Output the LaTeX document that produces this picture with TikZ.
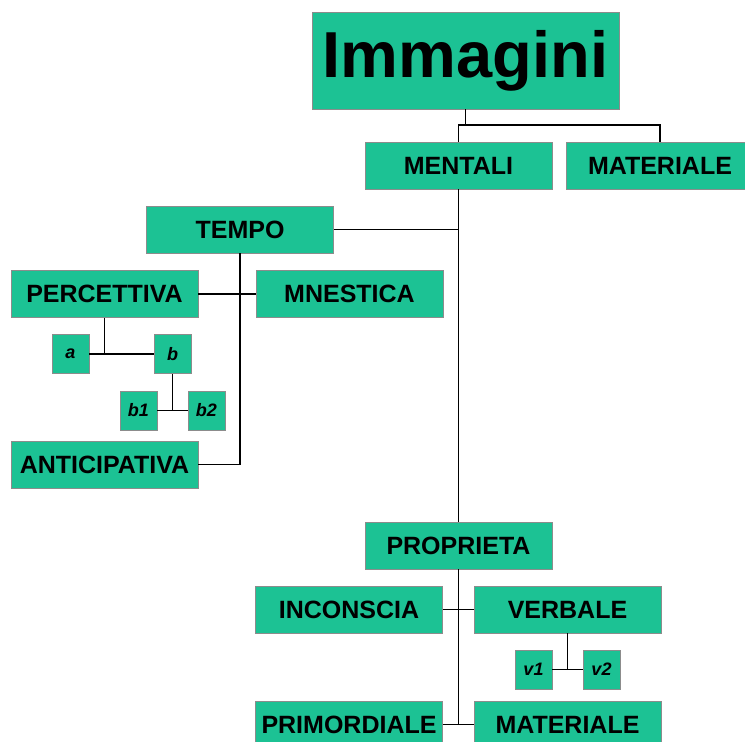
\documentclass[tikz,border=0pt]{standalone}
\usepackage{fontspec}
\setmainfont{Liberation Sans}
\usetikzlibrary{calc, positioning}
\definecolor{boxgreen}{RGB}{28,194,148}

\begin{document}
\begin{tikzpicture}[
    x=1pt, y=-1pt,
    box/.style={draw=black!45, line width=0.8pt, fill=boxgreen, inner sep=0pt,
                minimum width=187pt, minimum height=47pt,
                font=\bfseries\fontsize{25}{28}\selectfont},
    small/.style={box, minimum width=37pt, minimum height=39pt,
                  font=\bfseries\itshape\fontsize{18}{20}\selectfont},
    link/.style={draw=black, line width=1.8pt}
]
\useasboundingbox (0,0) rectangle (745,742);
\clip (0,0) rectangle (745,742);

% top
\node[box, minimum width=307pt, minimum height=97pt,
      font=\bfseries\fontsize{65}{70}\selectfont] (img) at (465.5, 60.5) {Immagini};
\node[box] (mentali) at (458.5, 165.5) {MENTALI};
\node[box] (mat) at (660, 165.5) {MATERIALE};
\coordinate (j1) at (458.5, 125);
\draw[link] (img.south) -- (img.south |- j1);
\draw[link] (mentali.north) -- (j1) -| (mat.north);

% tempo branch
\node[box] (tempo) at (240, 229.5) {TEMPO};
\node[box] (perc) at (104.5, 294) {PERCETTIVA};
\node[box] (mnest) at (349.5, 294) {MNESTICA};
\node[box] (antic) at (104.5, 464.5) {ANTICIPATIVA};
\draw[link] (tempo.east) -- (tempo.east -| mentali.south);
\draw[link] (tempo.south) |- (antic.east);
\draw[link] (perc.east) -- (mnest.west);

\node[small] (a) at (70.5, 354) {a};
\node[small] (b) at (172.5, 354) {b};
\node[small] (b1) at (138.5, 410.5) {b1};
\node[small] (b2) at (206.5, 410.5) {b2};
\draw[link] (perc.south) -- (perc.south |- a.east);
\draw[link] (a.east) -- (b.west);
\draw[link] (b.south) -- (b.south |- b1.east);
\draw[link] (b1.east) -- (b2.west);

% proprieta branch
\node[box] (prop) at (458.5, 545.5) {PROPRIETA};
\node[box] (incon) at (349, 609.5) {INCONSCIA};
\node[box] (verb) at (567.5, 609.5) {VERBALE};
\node[box] (prim) at (349, 724.5) {PRIMORDIALE};
\node[box] (mat2) at (567.5, 724.5) {MATERIALE};
\draw[link] (mentali.south) -- (prop.north);
\draw[link] (prop.south) -- (prop.south |- prim.east);
\draw[link] (incon.east) -- (verb.west);
\draw[link] (prim.east) -- (mat2.west);

\node[small] (v1) at (533.5, 669.5) {v1};
\node[small] (v2) at (601.5, 669.5) {v2};
\draw[link] (verb.south) -- (verb.south |- v1.east);
\draw[link] (v1.east) -- (v2.west);

\end{tikzpicture}
\end{document}
